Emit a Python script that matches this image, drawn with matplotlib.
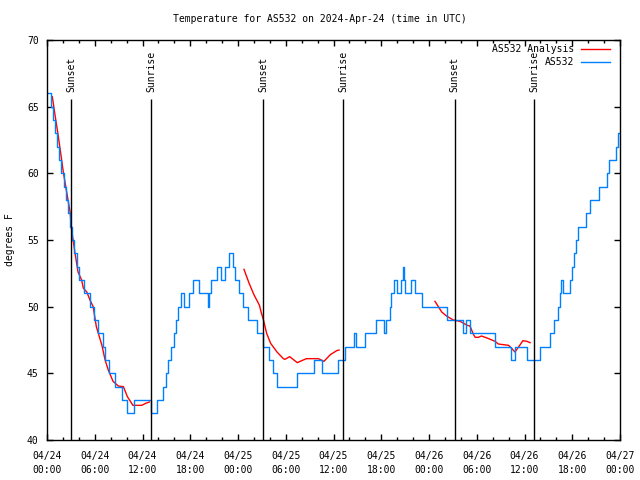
import matplotlib
matplotlib.use('Agg')
import matplotlib.pyplot as plt
import matplotlib.dates as mdates
import numpy as np
import pandas as pd

start = pd.Timestamp('2024-04-24 00:00')

# AS532 observations (deg F): hour after start where each reading begins
obs_hours = [0.1, 0.45, 0.75, 1.0, 1.3, 1.55, 1.8, 2.1, 2.35, 2.6, 2.85, 3.15, 3.4, 3.75,
             4.0, 4.6, 5.4, 5.95, 6.4, 7.0, 7.3, 7.8, 8.6, 9.4, 10.1, 10.9, 13.1, 13.8,
             14.6, 14.9, 15.2, 15.6, 16.0, 16.2, 16.45, 16.8, 17.2, 17.9, 18.4, 19.1,
             20.2, 20.35, 20.65, 21.4, 21.9, 22.4, 22.9, 23.35, 23.6, 24.1, 24.6, 25.2,
             26.45, 27.15, 27.85, 28.35, 28.95, 31.4, 33.5, 34.5, 36.6, 37.4, 38.6, 38.85,
             39.9, 41.4, 42.3, 42.55, 43.05, 43.2, 43.65, 43.95, 44.45, 44.7, 44.9, 45.0,
             45.7, 46.2, 47.1, 50.3, 52.3, 52.6, 53.1, 56.3, 58.3, 58.8, 60.3, 61.95,
             63.2, 63.7, 64.25, 64.45, 64.6, 64.85, 65.75, 65.95, 66.2, 66.45, 66.7,
             67.7, 68.2, 69.35, 70.35, 70.6, 71.55, 71.7, 72.0]
obs_temps = [66, 65, 64, 63, 62, 61, 60, 59, 58, 57, 56, 55, 54, 53,
             52, 51, 50, 49, 48, 47, 46, 45, 44, 43, 42, 43, 42, 43,
             44, 45, 46, 47, 48, 49, 50, 51, 50, 51, 52, 51,
             50, 51, 52, 53, 52, 53, 54, 53, 52, 51, 50, 49,
             48, 47, 46, 45, 44, 45, 46, 45, 46, 47, 48, 47,
             48, 49, 48, 49, 50, 51, 52, 51, 52, 53, 52, 51,
             52, 51, 50, 49, 48, 49, 48, 47, 46, 47, 46, 47,
             48, 49, 50, 51, 52, 51, 52, 53, 54, 55, 56,
             57, 58, 59, 60, 61, 62, 63, 63]

# AS532 analysis (NaN marks the gaps between runs)
ana_hours = [0.67, 1.0, 1.34, 1.63, 2.05, 2.47, 2.9, 3.1, 3.5, 3.9, 4.35, 4.56, 5.0, 5.4,
             5.8, 6.2, 6.9, 7.3, 7.7, 8.3, 8.96, 9.6, 10.1, 10.8, 11.9, 12.4, 12.86,
             18.0,
             24.75, 25.4, 26.0, 26.7, 26.9, 27.2, 27.6, 28.1, 28.9, 29.7, 29.9, 30.5,
             31.45, 32.2, 32.6, 34.1, 34.8, 35.6, 36.4, 36.7,
             42.0,
             48.75, 49.6, 50.2, 51.05, 51.9, 52.8, 53.15, 53.6, 53.8, 54.2, 54.6, 55.5,
             56.3, 56.7, 58.0, 58.5, 58.8, 59.4, 59.8, 60.3, 60.7]
ana_temps = [65.75, 64.4, 63.1, 61.9, 60.1, 58.6, 57.1, 55.75, 54.1, 52.6, 52.0, 51.4, 51.1, 50.5,
             50.0, 48.5, 47.1, 46.0, 45.25, 44.4, 44.05, 44.0, 43.25, 42.6, 42.6, 42.75, 42.85,
             np.nan,
             52.8, 51.75, 50.9, 50.1, 49.6, 49.0, 48.0, 47.25, 46.6, 46.1, 46.05, 46.25,
             45.8, 46.0, 46.1, 46.1, 45.9, 46.4, 46.7, 46.75,
             np.nan,
             50.4, 49.6, 49.3, 49.0, 48.9, 48.6, 48.55, 47.9, 47.7, 47.7, 47.8, 47.6,
             47.4, 47.2, 47.1, 46.8, 46.6, 47.1, 47.45, 47.4, 47.3]

sunset_hours = [3.05, 27.15, 51.25]
sunrise_hours = [13.07, 37.2, 61.2]


def to_time(h):
    return start + pd.to_timedelta(np.asarray(h, dtype=float), unit='h')


plt.rcParams['font.family'] = 'DejaVu Sans Mono'
plt.rcParams['font.size'] = 7

fig = plt.figure(figsize=(6.4, 4.8), dpi=100)
ax = fig.add_axes([47 / 640, 40 / 480, 573 / 640, 400 / 480])

ax.plot(to_time(ana_hours), ana_temps, color='#ff0000', lw=1.0, label='AS532 Analysis')
ax.plot(to_time(obs_hours), obs_temps, color='#0080ff', lw=1.0, drawstyle='steps-post',
        label='AS532')

# sun lines + labels
for hrs, name in [(sunset_hours, 'Sunset'), (sunrise_hours, 'Sunrise')]:
    ax.vlines(to_time(hrs), 40, 65.6, color='black', lw=1.0)
    for t in to_time(hrs):
        ax.text(t, 66.1, name, rotation=90, ha='center', va='bottom', fontsize=7)

ax.set_xlim(start, start + pd.Timedelta(hours=72))
ax.set_ylim(40, 70)
ax.set_yticks(range(40, 71, 5))

ax.xaxis.set_major_locator(mdates.HourLocator(byhour=range(0, 24, 6)))
ax.xaxis.set_minor_locator(mdates.HourLocator(byhour=range(0, 24, 2)))
ax.xaxis.set_major_formatter(mdates.DateFormatter('%m/%d\n%H:%M'))

ax.tick_params(which='both', direction='in', top=True, right=True, width=1.0, labelsize=7)
ax.tick_params(which='major', length=4.5)
ax.tick_params(which='minor', length=2.5)
ax.tick_params(axis='x', pad=8)
ax.tick_params(axis='y', pad=6)
for tk in ax.xaxis.get_major_ticks():
    tk.label1.set_linespacing(1.5)

for sp in ax.spines.values():
    sp.set_linewidth(1.0)

ax.legend(loc='upper right', bbox_to_anchor=(0.9825, 0.99), frameon=False,
          markerfirst=False, handlelength=3.0, handletextpad=0.7,
          borderpad=0, borderaxespad=0, labelspacing=0.3, fontsize=7)

fig.text(0.5, 1 - 19 / 480, 'Temperature for AS532 on 2024-Apr-24 (time in UTC)',
         ha='center', va='center', fontsize=7)
fig.text(10 / 640, 0.5, 'degrees F', rotation=90, ha='center', va='center', fontsize=7)

plt.savefig('out.png', dpi=100)
